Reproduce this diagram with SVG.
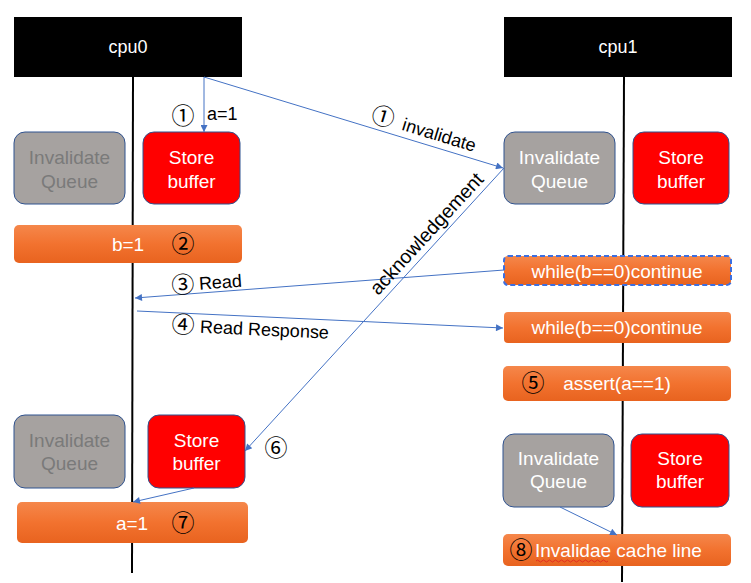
<svg xmlns="http://www.w3.org/2000/svg" width="751" height="583" viewBox="0 0 751 583">
<defs>
<linearGradient id="og" x1="0" y1="0" x2="0" y2="1">
<stop offset="0" stop-color="#F5874B"/>
<stop offset="0.5" stop-color="#F2722F"/>
<stop offset="1" stop-color="#E8631F"/>
</linearGradient>
<marker id="arr" viewBox="0 0 10 10" refX="10" refY="5" markerWidth="9" markerHeight="7" markerUnits="userSpaceOnUse" orient="auto">
<path d="M0,0 L10,5 L0,10 z" fill="#4472C4"/>
</marker>
</defs>
<style>
text{font-family:"Liberation Sans","Noto Sans CJK SC",sans-serif;font-size:18px}
.cpu{fill:#000}
.wt{fill:#fff;text-anchor:middle}
.gt{fill:#7A7A7A;text-anchor:middle}
.bt{fill:#000}
.iq{fill:#A6A2A0;stroke:#2F528F;stroke-width:1}
.sb{fill:#FF0000;stroke:#2F528F;stroke-width:1}
.ob{fill:url(#og)}
.life{stroke:#000;stroke-width:2;fill:none}
.con{stroke:#4472C4;stroke-width:1;fill:none}
.cn{font-family:"Noto Sans CJK SC",sans-serif;font-size:23px;fill:#000;text-anchor:middle}
.big{font-size:19px}
</style>
<g id="lifelines">
<line class="life" x1="133" y1="77" x2="132" y2="573"/>
<line class="life" x1="624" y1="77" x2="622" y2="582"/>
</g>
<g id="cpu0"><rect class="cpu" x="14" y="17" width="228" height="60"/><text class="wt" x="128" y="53">cpu0</text></g>
<g id="cpu1"><rect class="cpu" x="504" y="17" width="228" height="60"/><text class="wt" x="618" y="53">cpu1</text></g>
<g id="iq0a"><rect class="iq" x="14" y="132" width="111" height="72" rx="11"/><text class="gt big" x="69.5" y="163.5">Invalidate</text><text class="gt big" x="69.5" y="188">Queue</text></g>
<g id="sb0a"><rect class="sb" x="143" y="132" width="97" height="72" rx="11"/><text class="wt big" x="191.5" y="163.5">Store</text><text class="wt big" x="191.5" y="188">buffer</text></g>
<g id="iq1a"><rect class="iq" x="504" y="132" width="111" height="72" rx="11"/><text class="wt big" x="559.5" y="163.5">Invalidate</text><text class="wt big" x="559.5" y="188">Queue</text></g>
<g id="sb1a"><rect class="sb" x="633" y="132" width="96" height="72" rx="11"/><text class="wt big" x="681" y="163.5">Store</text><text class="wt big" x="681" y="188">buffer</text></g>
<g id="b1"><rect class="ob" x="14" y="225" width="228" height="38" rx="5"/><text class="wt big" x="128" y="250.5">b=1</text><text class="cn" x="183" y="252">②</text></g>
<g id="while1"><rect class="ob" x="504" y="256" width="227" height="29" rx="4" stroke="#3C6FE0" stroke-width="2" stroke-dasharray="5 3"/><text class="wt big" x="617" y="278">while(b==0)continue</text></g>
<g id="while2"><rect class="ob" x="504" y="312" width="227" height="31" rx="4"/><text class="wt big" x="617" y="333.5">while(b==0)continue</text></g>
<g id="assert"><rect class="ob" x="503" y="366" width="228" height="35" rx="5"/><text class="cn" x="533" y="391">⑤</text><text class="wt big" x="617" y="390">assert(a==1)</text></g>
<g id="iq0b"><rect class="iq" x="14" y="415" width="111" height="73" rx="11"/><text class="gt big" x="69.5" y="446.5">Invalidate</text><text class="gt big" x="69.5" y="469.5">Queue</text></g>
<g id="sb0b"><rect class="sb" x="148" y="415" width="97" height="73" rx="11"/><text class="wt big" x="196.5" y="446.5">Store</text><text class="wt big" x="196.5" y="469.5">buffer</text></g>
<g id="iq1b"><rect class="iq" x="503" y="434" width="111" height="73" rx="11"/><text class="wt big" x="558.5" y="464.5">Invalidate</text><text class="wt big" x="558.5" y="488">Queue</text></g>
<g id="sb1b"><rect class="sb" x="631" y="434" width="98" height="73" rx="11"/><text class="wt big" x="680" y="464.5">Store</text><text class="wt big" x="680" y="488">buffer</text></g>
<g id="a1"><rect class="ob" x="17" y="502" width="231" height="41" rx="5"/><text class="wt big" x="132" y="529.5">a=1</text><text class="cn" x="183" y="531">⑦</text></g>
<g id="inval"><rect class="ob" x="503" y="534" width="228" height="32" rx="5"/><text class="cn" x="521" y="558">⑧</text><text class="wt big" x="535" y="556.5" style="text-anchor:start">Invalidae cache line</text><path d="M536,561 q1.5,-2 3,0 t3,0 t3,0 t3,0 t3,0 t3,0 t3,0 t3,0 t3,0 t3,0 t3,0 t3,0 t3,0 t3,0 t3,0 t3,0 t3,0 t3,0 t3,0 t3,0 t3,0 t3,0 t3,0 t3,0" fill="none" stroke="#E02020" stroke-width="0.8"/></g>
<g id="connectors">
<line class="con" x1="204" y1="77" x2="204" y2="132" marker-end="url(#arr)"/>
<line class="con" x1="204" y1="77" x2="503" y2="168" marker-end="url(#arr)"/>
<line class="con" x1="504" y1="168" x2="245" y2="451" marker-end="url(#arr)"/>
<line class="con" x1="504" y1="270" x2="135" y2="298" marker-end="url(#arr)"/>
<line class="con" x1="137" y1="311" x2="503" y2="328" marker-end="url(#arr)"/>
<line class="con" x1="194" y1="488" x2="133" y2="502" marker-end="url(#arr)"/>
<line class="con" x1="560" y1="507" x2="617" y2="535" marker-end="url(#arr)"/>
</g>
<g id="labels">
<text class="cn" x="183" y="124">①</text>
<text class="bt" x="207" y="120">a=1</text>
<g transform="rotate(16.9 383 117)"><text class="cn" x="383" y="125">①</text><text class="bt" x="404" y="124">invalidate</text></g>
<text class="bt" transform="rotate(-47.4 427 234)" x="427" y="240" text-anchor="middle" style="font-size:19.5px">acknowledgement</text>
<g transform="rotate(-4.2 183 285)"><text class="cn" x="183" y="293">③</text><text class="bt" x="199" y="291">Read</text></g>
<g transform="rotate(2.6 183 325)"><text class="cn" x="183" y="333">④</text><text class="bt" x="200" y="332">Read Response</text></g>
<text class="cn" x="276" y="456">⑥</text>
</g>
</svg>
